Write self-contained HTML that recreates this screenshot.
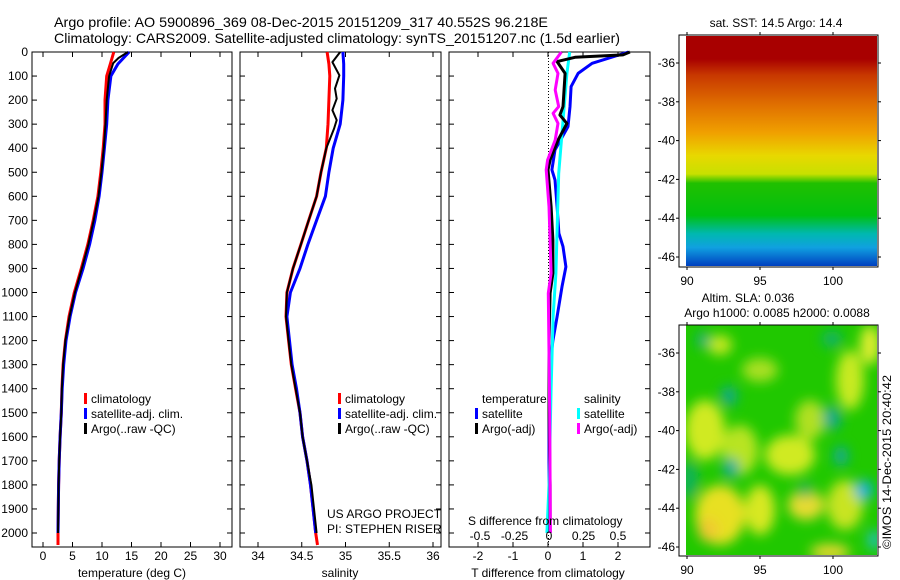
<!DOCTYPE html>
<html><head><meta charset="utf-8">
<style>
html,body{margin:0;padding:0;background:#fff;}
svg{display:block;font-family:"Liberation Sans",Arial,sans-serif;}
text{fill:#000;}
</style></head>
<body>
<svg id="fig" width="900" height="580" viewBox="0 0 900 580" xmlns="http://www.w3.org/2000/svg">
<defs>
<linearGradient id="sstGrad" x1="0" y1="0" x2="0" y2="1">
<stop offset="0" stop-color="#a80000"/>
<stop offset="0.10" stop-color="#a80000"/>
<stop offset="0.17" stop-color="#c83800"/>
<stop offset="0.30" stop-color="#e07000"/>
<stop offset="0.42" stop-color="#f0a000"/>
<stop offset="0.52" stop-color="#e8d800"/>
<stop offset="0.60" stop-color="#c8e000"/>
<stop offset="0.64" stop-color="#20c000"/>
<stop offset="0.78" stop-color="#00c010"/>
<stop offset="0.86" stop-color="#00b8b0"/>
<stop offset="0.92" stop-color="#10a0e0"/>
<stop offset="1" stop-color="#0040c0"/>
</linearGradient>
<filter id="blur" x="-20%" y="-20%" width="140%" height="140%"><feGaussianBlur stdDeviation="6"/></filter>
<clipPath id="clipSla"><rect x="686" y="325" width="191" height="230"/></clipPath>
</defs>

<text x="54" y="27" font-size="14" textLength="494" lengthAdjust="spacingAndGlyphs">Argo profile: AO 5900896_369 08-Dec-2015 20151209_317 40.552S 96.218E</text>
<text x="54" y="43" font-size="14" textLength="566" lengthAdjust="spacingAndGlyphs">Climatology: CARS2009. Satellite-adjusted climatology: synTS_20151207.nc (1.5d earlier)</text>

<g id="p1"></g>
<g id="p2"></g>
<g id="p3"></g>

<!-- map 1 -->
<g>
<text x="776" y="27" font-size="12" text-anchor="middle">sat. SST: 14.5 Argo: 14.4</text>
<rect x="686" y="36" width="191" height="230" fill="url(#sstGrad)"/>
<rect x="679" y="35" width="199" height="232" fill="none" stroke="#000" stroke-width="1"/>
<g id="map1ticks"></g>
</g>

<!-- map 2 -->
<g>
<text x="748" y="302" font-size="12" text-anchor="middle">Altim. SLA: 0.036</text>
<text x="777" y="317" font-size="12" text-anchor="middle">Argo h1000: 0.0085 h2000: 0.0088</text>
<g clip-path="url(#clipSla)">
<rect x="686" y="325" width="191" height="230" fill="#20c800"/>
<g filter="url(#blur)">
<ellipse cx="720" cy="345" rx="12" ry="10" fill="#c8e820"/>
<ellipse cx="760" cy="370" rx="18" ry="12" fill="#a8e020"/>
<ellipse cx="850" cy="380" rx="14" ry="30" fill="#c8ea20"/>
<ellipse cx="870" cy="345" rx="10" ry="20" fill="#e0ee30"/>
<ellipse cx="705" cy="430" rx="20" ry="30" fill="#d0ea20"/>
<ellipse cx="740" cy="450" rx="18" ry="25" fill="#b8e420"/>
<ellipse cx="790" cy="455" rx="25" ry="20" fill="#d0ea20"/>
<ellipse cx="810" cy="420" rx="15" ry="20" fill="#b0e020"/>
<ellipse cx="720" cy="515" rx="25" ry="30" fill="#e8e020"/>
<ellipse cx="708" cy="530" rx="10" ry="12" fill="#f0c830"/>
<ellipse cx="760" cy="510" rx="15" ry="25" fill="#d8e820"/>
<ellipse cx="806" cy="505" rx="18" ry="15" fill="#e8dc30"/>
<ellipse cx="845" cy="505" rx="18" ry="25" fill="#c8e420"/>
<ellipse cx="830" cy="552" rx="20" ry="8" fill="#e8d830"/>
<ellipse cx="703" cy="340" rx="6" ry="8" fill="#10a890"/>
<ellipse cx="729" cy="396" rx="8" ry="10" fill="#10a890"/>
<ellipse cx="832" cy="339" rx="10" ry="8" fill="#10b070"/>
<ellipse cx="832" cy="418" rx="9" ry="12" fill="#10a890"/>
<ellipse cx="841" cy="456" rx="7" ry="10" fill="#10a8a0"/>
<ellipse cx="731" cy="468" rx="8" ry="10" fill="#10a8a0"/>
<ellipse cx="864" cy="490" rx="9" ry="10" fill="#10b0e0"/>
<ellipse cx="874" cy="540" rx="6" ry="10" fill="#20c0d0"/>
<ellipse cx="805" cy="490" rx="7" ry="8" fill="#10b060"/>
<ellipse cx="690" cy="480" rx="8" ry="20" fill="#10b060"/>
</g>
</g>
<rect x="679" y="325" width="199" height="231" fill="none" stroke="#000" stroke-width="1"/>
<g id="map2ticks"></g>
</g>

<text transform="translate(891,549) rotate(-90)" font-size="12" textLength="174" lengthAdjust="spacingAndGlyphs">©IMOS 14-Dec-2015 20:40:42</text>
</svg>

<script>
// ---------- data ----------
const depthClim = [0,50,100,200,300,400,500,600,700,800,900,1000,1100,1200,1300,1400,1500,1600,1700,1800,1900,2000,2050];
const tempClim = [12.0,11.4,10.8,10.5,10.5,10.2,9.8,9.3,8.5,7.6,6.5,5.3,4.4,3.8,3.4,3.2,3.1,2.9,2.75,2.65,2.6,2.55,2.55];
const depthSat = [0,50,100,200,300,400,500,600,700,800,900,1000,1100,1200,1300,1400,1500,1600,1700,1800,1900,2000];
const tempSat = [14.6,12.7,11.5,11.0,10.8,10.4,10.0,9.5,8.8,7.9,6.8,5.5,4.6,3.9,3.5,3.25,3.1,2.9,2.75,2.65,2.6,2.55];
const depthArgoT = [0,25,46,100,200,300,400,500,600,700,800,900,1000,1100,1200,1300,1400,1500,1600,1700,1800,1900,2000];
const tempArgo = [14.4,12.8,11.9,11.2,10.8,10.6,10.3,9.9,9.4,8.6,7.7,6.6,5.4,4.5,3.8,3.4,3.2,3.1,2.9,2.75,2.65,2.6,2.55];

const salClim = [34.79,34.81,34.82,34.81,34.80,34.78,34.72,34.67,34.58,34.49,34.40,34.33,34.32,34.35,34.38,34.43,34.48,34.51,34.56,34.60,34.63,34.66,34.68];
const salSat = [34.97,34.98,34.98,34.97,34.94,34.86,34.81,34.77,34.67,34.57,34.48,34.37,34.33,34.36,34.39,34.44,34.48,34.51,34.56,34.60,34.63,34.66];
const depthArgoS = [0,42,97,152,194,242,283,318,400,500,600,700,800,900,1000,1100,1200,1300,1400,1500,1600,1700,1800,1900,2000];
const salArgo = [34.94,34.85,34.93,34.88,34.90,34.85,34.90,34.87,34.78,34.72,34.67,34.58,34.49,34.40,34.33,34.32,34.35,34.38,34.43,34.48,34.51,34.56,34.61,34.64,34.67];

const depthDTsat = [0,47,89,144,227,310,407,490,532,643,754,809,893,976,1100,1200,1300,1500,1800,2000];
const dTsat = [2.3,1.26,0.86,0.66,0.63,0.57,0.2,0.11,0.2,0.26,0.31,0.43,0.51,0.4,0.26,0.14,0.06,0.03,0.03,0.06];
const depthDTargo = [0,12,22,40,89,227,262,297,366,449,490,643,782,920,1003,1200,1500,1800,2000];
const dTargo = [2.34,2.14,0.77,0.26,0.49,0.43,0.34,0.54,0.29,0.06,0.0,0.09,0.14,0.14,0.06,0.03,0.03,0.06,0.06];
const depthDSsat = [0,89,297,505,712,920,1100,1400,1800,2000];
const dSsat = [0.15,0.13,0.10,0.07,0.06,0.05,0.03,0.015,0.0,-0.015];
const depthDSargo = [0,47,89,158,227,255,297,366,449,490,643,920,1003,1500,2000];
const dSargo = [0.09,0.03,0.065,0.045,0.07,0.03,0.065,0.045,-0.01,-0.02,0.0,0.015,-0.005,0.005,0.01];

const depthTicks = [0,100,200,300,400,500,600,700,800,900,1000,1100,1200,1300,1400,1500,1600,1700,1800,1900,2000];
const tempTicks = [0,5,10,15,20,25,30];
const salTicks = [34,34.5,35,35.5,36];
const salTickLabels = ["34","34.5","35","35.5","36"];
const dTTicks = [-2,-1,0,1,2];
const dSTicks = [-0.5,-0.25,0,0.25,0.5];
const dSTickLabels = ["-0.5","-0.25","0","0.25","0.5"];
const lonTicks = [90,95,100];
const latTicks = [-36,-38,-40,-42,-44,-46];

// ---------- helpers ----------
const NS = "http://www.w3.org/2000/svg";
function el(tag, attrs, parent){const e=document.createElementNS(NS,tag);for(const k in attrs)e.setAttribute(k,attrs[k]);parent.appendChild(e);return e;}
const yDepth = d => 52 + d*0.2405;
const PTOP=52, PBOT=547;

function axesFrame(g,x0,x1,xs,ticksArr,labels,leftLabels){
  el('rect',{x:x0,y:PTOP,width:x1-x0,height:PBOT-PTOP,fill:'none',stroke:'#000','stroke-width':1},g);
  depthTicks.forEach(d=>{
    const y=yDepth(d);
    el('line',{x1:x0,y1:y,x2:x0+5,y2:y,stroke:'#000'},g);
    el('line',{x1:x1-5,y1:y,x2:x1,y2:y,stroke:'#000'},g);
    if(leftLabels){
      const t=el('text',{x:x0-4,y:y+4,'font-size':12,'text-anchor':'end'},g);
      t.textContent=d;
      
      
    }
  });
  ticksArr.forEach((v,i)=>{
    const x=xs(v);
    el('line',{x1:x,y1:PTOP,x2:x,y2:PTOP+5,stroke:'#000'},g);
    el('line',{x1:x,y1:PBOT-5,x2:x,y2:PBOT,stroke:'#000'},g);
    const t=el('text',{x:x,y:560,'font-size':12,'text-anchor':'middle'},g);
    t.textContent=labels[i];
    
    
  });
}
function line(g,xs,vals,deps,color,w,name){
  const pts=vals.map((v,i)=>xs(v).toFixed(1)+','+yDepth(deps[i]).toFixed(1)).join(' ');
  const p=el('polyline',{points:pts,fill:'none',stroke:color,'stroke-width':w,'stroke-linejoin':'round'},g);
  
  
}
function legend(g,x,y,color,label,name){
  el('rect',{x:x,y:y-10,width:3,height:11,fill:color},g);
  const t=el('text',{x:x+7,y:y,'font-size':12},g);
  t.textContent=label;
  
  
}
function txt(g,x,y,s,name,anchor){
  const t=el('text',{x:x,y:y,'font-size':12,'text-anchor':anchor||'start'},g);
  t.textContent=s;
  
  
}

// ---------- panel 1 ----------
const g1=document.getElementById('p1');
const xT = v => 43 + v*5.9;
axesFrame(g1,32,232,xT,tempTicks,tempTicks.map(String),true);
line(g1,xT,tempClim,depthClim,'#ff0000',3,'temperature-climatology-line');
line(g1,xT,tempSat,depthSat,'#0000ff',3,'temperature-satellite-line');
line(g1,xT,tempArgo,depthArgoT,'#000000',2,'temperature-argo-line');
legend(g1,84,403,'#ff0000','climatology','legend-climatology');
legend(g1,84,418,'#0000ff','satellite-adj. clim.','legend-satellite');
legend(g1,84,433,'#000000','Argo(..raw -QC)','legend-argo');
txt(g1,132,577,'temperature (deg C)','x-axis-title-temperature','middle');

// ---------- panel 2 ----------
const g2=document.getElementById('p2');
const xS = v => 258 + (v-34)*87.5;
axesFrame(g2,240,441,xS,salTicks,salTickLabels,false);
line(g2,xS,salClim,depthClim,'#ff0000',3,'salinity-climatology-line');
line(g2,xS,salSat,depthSat,'#0000ff',3,'salinity-satellite-line');
line(g2,xS,salArgo,depthArgoS,'#000000',2,'salinity-argo-line');
legend(g2,338,403,'#ff0000','climatology','legend-climatology-2');
legend(g2,338,418,'#0000ff','satellite-adj. clim.','legend-satellite-2');
legend(g2,338,433,'#000000','Argo(..raw -QC)','legend-argo-2');
txt(g2,327,518,'US ARGO PROJECT','project-label');
txt(g2,327,533,'PI: STEPHEN RISER','pi-label');
txt(g2,340,577,'salinity','x-axis-title-salinity','middle');

// ---------- panel 3 ----------
const g3=document.getElementById('p3');
const xDT = v => 548 + v*35;
const xDS = v => 549 + v*138;
axesFrame(g3,449,650,xDT,dTTicks,dTTicks.map(String),false);
el('line',{x1:548.5,y1:PTOP,x2:548.5,y2:PBOT,stroke:'#000','stroke-dasharray':'1,2','stroke-width':1},g3);
line(g3,xDT,dTsat,depthDTsat,'#0000ff',3,'t-diff-satellite-line');
line(g3,xDS,dSsat,depthDSsat,'#00ffff',3,'s-diff-satellite-line');
line(g3,xDT,dTargo,depthDTargo,'#000000',3,'t-diff-argo-line');
line(g3,xDS,dSargo,depthDSargo,'#ff00ff',3,'s-diff-argo-line');
txt(g3,482,403,'temperature','legend-temperature-header');
txt(g3,584,403,'salinity','legend-salinity-header');
legend(g3,475,418,'#0000ff','satellite','legend-t-satellite');
legend(g3,475,433,'#000000','Argo(-adj)','legend-t-argo');
legend(g3,577,418,'#00ffff','satellite','legend-s-satellite');
legend(g3,577,433,'#ff00ff','Argo(-adj)','legend-s-argo');
txt(g3,468,525,'S difference from climatology','s-axis-title');
dSTicks.forEach((v,i)=>{
  const t=el('text',{x:xDS(v),y:540,'font-size':12,'text-anchor':'middle'},g3);
  t.textContent=dSTickLabels[i];
  
  
});
txt(g3,548,577,'T difference from climatology','t-axis-title','middle');

// ---------- map ticks ----------
function mapTicks(id,top,bot,lat36y){
  const g=document.getElementById(id);
  const lx = v => 687 + (v-90)*14.6;
  const ly = v => lat36y + (-36 - v)*19.4;
  lonTicks.forEach(v=>{
    const x=lx(v);
    el('line',{x1:x,y1:top,x2:x,y2:top-3,stroke:'#000'},g);
    el('line',{x1:x,y1:bot,x2:x,y2:bot+3,stroke:'#000'},g);
    const t=el('text',{x:x,y:bot+18,'font-size':12,'text-anchor':'middle'},g);
    t.textContent=v;
    
    
  });
  latTicks.forEach(v=>{
    const y=ly(v);
    el('line',{x1:676,y1:y,x2:679,y2:y,stroke:'#000'},g);
    el('line',{x1:878,y1:y,x2:881,y2:y,stroke:'#000'},g);
    const t=el('text',{x:675,y:y+4,'font-size':12,'text-anchor':'end'},g);
    t.textContent=v;
    
    
  });
}
mapTicks('map1ticks',35,267,63);
mapTicks('map2ticks',325,556,353);
</script>
</body></html>
